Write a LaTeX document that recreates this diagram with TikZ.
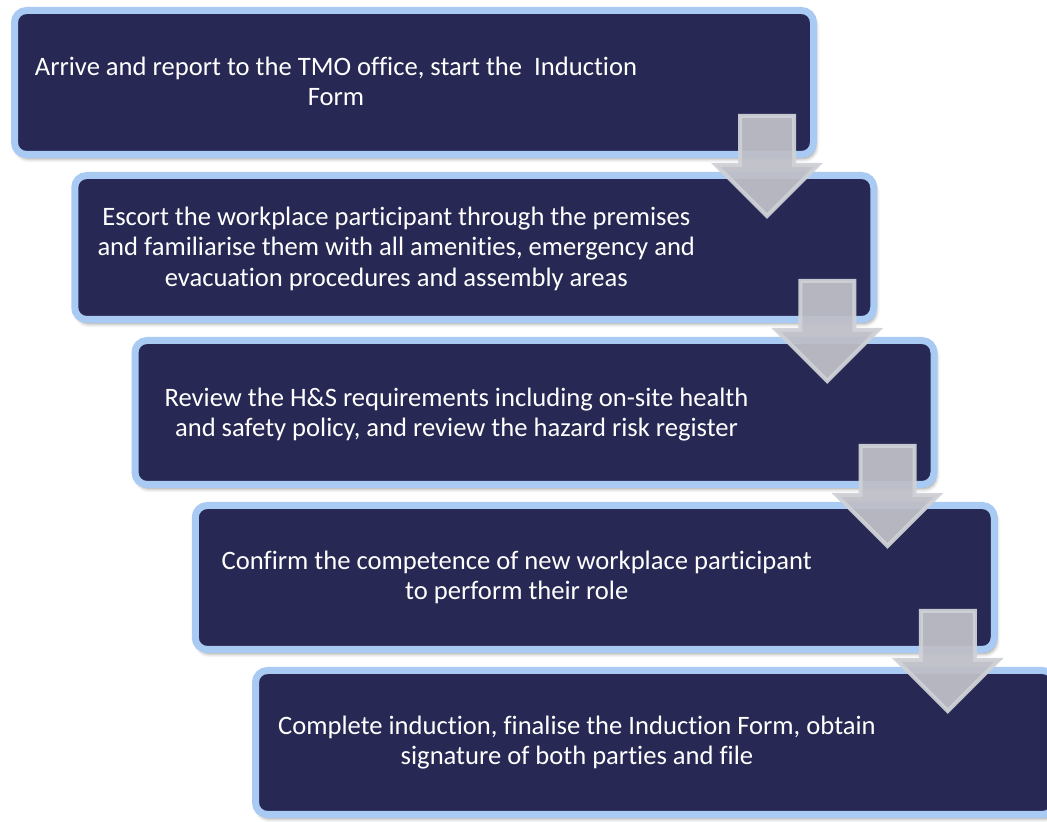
\documentclass[tikz,border=0pt]{standalone}
\usepackage{fontspec}
\setmainfont{Carlito}[Ligatures=NoCommon]
\usepackage{tikz}
\usetikzlibrary{calc,shadows.blur}

\definecolor{stepnavy}{HTML}{272853}
\definecolor{stepblue}{HTML}{A9CAF3}
\definecolor{arrowgray}{HTML}{BEBFC7}
\definecolor{arrowedge}{HTML}{CFD1D7}

\tikzset{
	stepbox/.style={rectangle, rounded corners=12pt, draw=stepblue, fill=stepnavy, line width=7pt,
		minimum width=799pt, minimum height=144pt, inner sep=0pt,
		blur shadow={shadow xshift=2pt, shadow yshift=-4pt, shadow blur radius=4pt, shadow opacity=45}},
	steptext/.style={text=white, align=center, inner sep=0pt,
		font=\fontsize{26.6pt}{30.5pt}\selectfont},
	downarrow/.style={fill=arrowgray, draw=arrowedge, line width=4pt, fill opacity=0.94, draw opacity=0.94}
}

\begin{document}
\begin{tikzpicture}[x=1pt, y=1pt]
				\useasboundingbox (0,0) rectangle (1047,822);
				% Boxes:
				\node[stepbox] (s1) at (414, 739.5){};
				\node[stepbox] (s2) at (474.25, 574.5){};
				\node[stepbox] (s3) at (534.5, 409.5){};
				\node[stepbox] (s4) at (594.75, 244.5){};
				\node[stepbox] (s5) at (655, 79.5){};
				% Arrows between the boxes:
				\coordinate (a1) at ($(s1.south east)+(-50, 42)$);
				\draw[downarrow] (a1) ++(-27,0) -- ++(54,0) -- ++(0,-49) -- ++(24,0) -- ++(-51,-51) -- ++(-51,51) -- ++(24,0) -- cycle;
				\coordinate (a2) at ($(s2.south east)+(-50, 42)$);
				\draw[downarrow] (a2) ++(-27,0) -- ++(54,0) -- ++(0,-49) -- ++(24,0) -- ++(-51,-51) -- ++(-51,51) -- ++(24,0) -- cycle;
				\coordinate (a3) at ($(s3.south east)+(-50, 42)$);
				\draw[downarrow] (a3) ++(-27,0) -- ++(54,0) -- ++(0,-49) -- ++(24,0) -- ++(-51,-51) -- ++(-51,51) -- ++(24,0) -- cycle;
				\coordinate (a4) at ($(s4.south east)+(-50, 42)$);
				\draw[downarrow] (a4) ++(-27,0) -- ++(54,0) -- ++(0,-49) -- ++(24,0) -- ++(-51,-51) -- ++(-51,51) -- ++(24,0) -- cycle;
				% Text:
				\node[steptext] (t1) at ($(s1.center)+(-78, 1)$){Arrive and report to the TMO office, start the \ Induction\\Form};
				\node[steptext] (t2) at ($(s2.center)+(-78, -1)$){Escort the workplace participant through the premises\\and familiarise them with all amenities, emergency and\\evacuation procedures and assembly areas};
				\node[steptext] (t3) at ($(s3.center)+(-78, -2)$){Review the H\&S requirements including on-site health\\and safety policy, and review the hazard risk register};
				\node[steptext] (t4) at ($(s4.center)+(-78, 0)$){Confirm the competence of new workplace participant\\to perform their role};
				\node[steptext] (t5) at ($(s5.center)+(-78, 0)$){Complete induction, finalise the Induction Form, obtain\\signature of both parties and file};
			\end{tikzpicture}
\end{document}
